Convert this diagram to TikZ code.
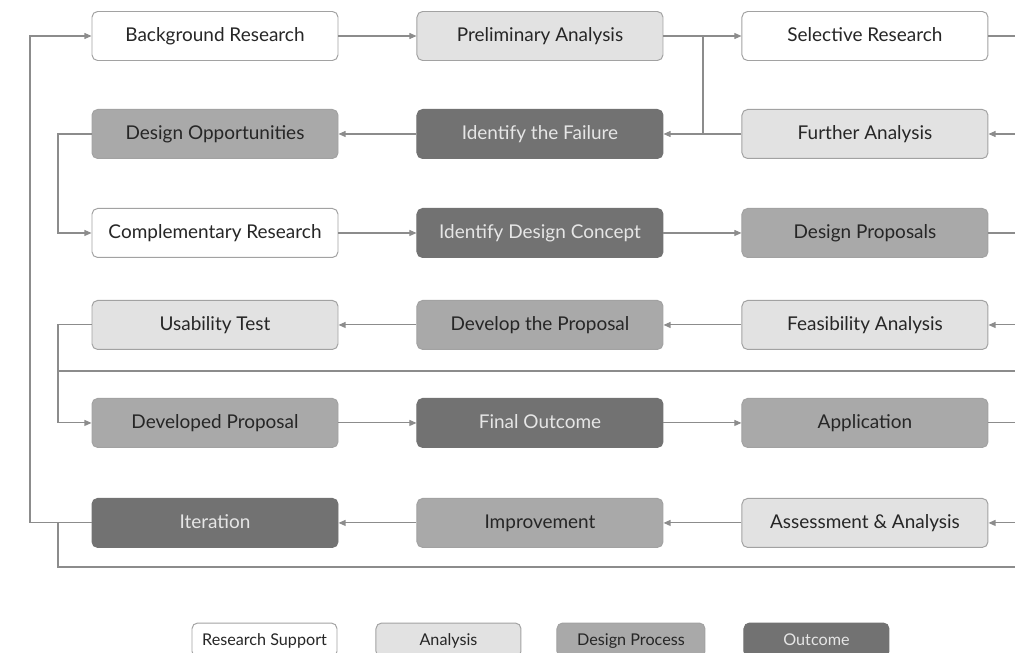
\documentclass[tikz,border=0pt]{standalone}
\usepackage{fontspec}
\setmainfont{Lato}
\usetikzlibrary{positioning, arrows.meta}

\definecolor{lineGray}{HTML}{8C8C8C}
\definecolor{edgeGray}{HTML}{A2A2A2}
\definecolor{txtDark}{HTML}{262626}
\definecolor{txtLight}{HTML}{E6E6E6}
\definecolor{fillAnalysis}{HTML}{E2E2E2}
\definecolor{fillDesign}{HTML}{A9A9A9}
\definecolor{fillOutcome}{HTML}{727272}

\begin{document}
\begin{tikzpicture}[
    node distance=1.95cm,
    % cajas del flujo: mismo tamano, cambia solo el relleno
    box/.style={
        rectangle,
        draw=edgeGray,
        line width=0.7pt,
        rounded corners=4pt,
        minimum width=6.15cm,
        minimum height=1.225cm,
        inner sep=0pt,
        text height=0.85em,
        text depth=0pt,
        text=txtDark,
        font=\fontsize{13.5}{16}\selectfont
    },
    supportbox/.style={box, fill=white},
    analysisbox/.style={box, fill=fillAnalysis},
    designbox/.style={box, fill=fillDesign},
    outcomebox/.style={box, fill=fillOutcome, draw=fillOutcome, text=txtLight},
    legendbox/.style={minimum width=3.625cm, minimum height=0.85cm,
        font=\fontsize{11.5}{13}\selectfont},
    arr/.style={-{Triangle[length=5pt, width=4.2pt]}, line width=0.75pt, draw=lineGray},
    link/.style={line width=0.75pt, draw=lineGray}
]

    \clip (0,0) rectangle (25.375,-16.3);

    % --- COORDENADAS GUIA (bucles y borde derecho) ---
    \coordinate (lx) at (0.75,0);
    \coordinate (ix) at (1.45,0);
    \coordinate (jx) at (17.575,0);
    \coordinate (rx) at (25.6,0);
    \coordinate (sep1) at (0,-9.275);
    \coordinate (sep2) at (0,-14.175);

    % --- FILA 1 ---
    \node[supportbox] (bg) at (5.375,-0.9) {Background Research};
    \node[analysisbox, right=of bg] (pre) {Preliminary Analysis};
    \node[supportbox, right=of pre] (sel) {Selective Research};

    % --- FILA 2 ---
    \node[designbox, below=1.2cm of bg] (opp) {Design Opportunities};
    \node[outcomebox, right=of opp] (fail) {Identify the Failure};
    \node[analysisbox, right=of fail] (fur) {Further Analysis};

    % --- FILA 3 ---
    \node[supportbox, below=1.225cm of opp] (comp) {Complementary Research};
    \node[outcomebox, right=of comp] (con) {Identify Design Concept};
    \node[designbox, right=of con] (prop) {Design Proposals};

    % --- FILA 4 ---
    \node[analysisbox, below=1.05cm of comp] (use) {Usability Test};
    \node[designbox, right=of use] (dev) {Develop the Proposal};
    \node[analysisbox, right=of dev] (feas) {Feasibility Analysis};

    % --- FILA 5 ---
    \node[designbox, below=1.2cm of use] (devd) {Developed Proposal};
    \node[outcomebox, right=of devd] (fin) {Final Outcome};
    \node[designbox, right=of fin] (app) {Application};

    % --- FILA 6 ---
    \node[outcomebox, below=1.25cm of devd] (iter) {Iteration};
    \node[designbox, right=of iter] (impr) {Improvement};
    \node[analysisbox, right=of impr] (ass) {Assessment \& Analysis};

    % --- CONEXIONES ---
    \draw[arr] (bg) -- (pre);
    \draw[arr] (pre) -- (sel);
    \draw[link] (pre.east -| jx) -- (fail.east -| jx);
    \draw[link] (sel.east) -- (sel.east -| rx);
    \draw[arr] (fur.east -| rx) -- (fur);
    \draw[arr] (fur) -- (fail);
    \draw[arr] (fail) -- (opp);
    \draw[arr] (opp.west) -- (opp.west -| ix) |- (comp.west);

    \draw[arr] (comp) -- (con);
    \draw[arr] (con) -- (prop);
    \draw[link] (prop.east) -- (prop.east -| rx);
    \draw[arr] (feas.east -| rx) -- (feas);
    \draw[arr] (feas) -- (dev);
    \draw[arr] (dev) -- (use);
    \draw[arr] (use.west) -- (use.west -| ix) |- (devd.west);
    \draw[link] (sep1 -| ix) -- (sep1 -| rx);

    \draw[arr] (devd) -- (fin);
    \draw[arr] (fin) -- (app);
    \draw[link] (app.east) -- (app.east -| rx);
    \draw[arr] (ass.east -| rx) -- (ass);
    \draw[arr] (ass) -- (impr);
    \draw[arr] (impr) -- (iter);

    % bucle exterior de vuelta al inicio
    \draw[arr] (iter.west) -- (iter.west -| lx) |- (bg.west);
    \draw[link] (iter.west -| ix) -- (sep2 -| ix) -- (sep2 -| rx);

    % --- LEYENDA ---
    \node[supportbox, legendbox] (legRS) at (6.6125,-16.0) {Research Support};
    \node[analysisbox, legendbox, right=0.95cm of legRS] (legAN) {Analysis};
    \node[designbox, legendbox, minimum width=3.7cm, right=0.875cm of legAN] (legDP) {Design Process};
    \node[outcomebox, legendbox, right=0.95cm of legDP] (legOC) {Outcome};

\end{tikzpicture}
\end{document}
